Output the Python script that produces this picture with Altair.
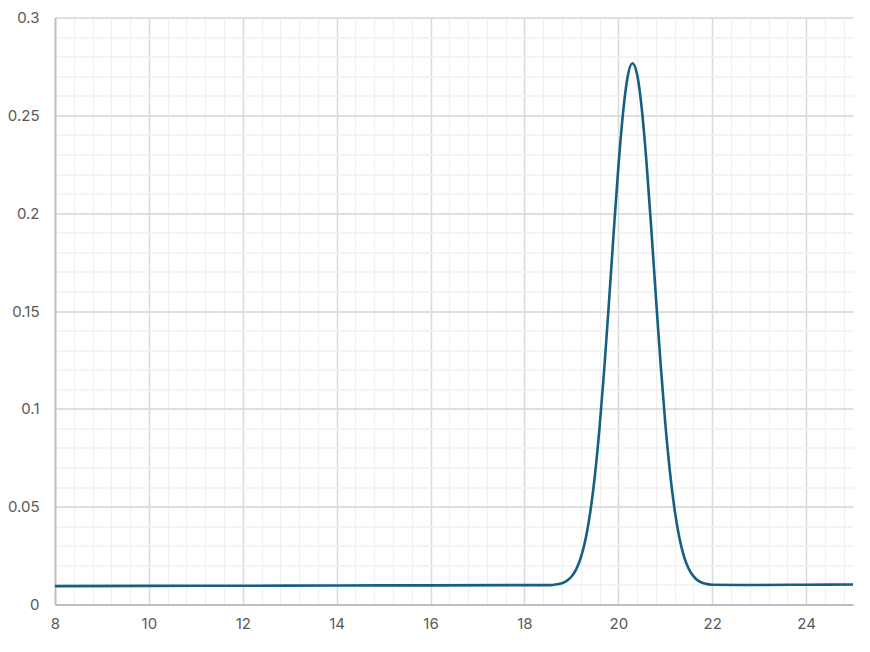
import altair as alt
import pandas as pd

# curve
xs = [8, 10, 12, 14, 16, 18, 18.5,
      18.6, 18.7, 18.8, 18.9, 19.0, 19.1, 19.2, 19.3, 19.4, 19.5,
      19.6, 19.7, 19.8, 19.9, 20.0, 20.1, 20.2, 20.3, 20.4, 20.5,
      20.6, 20.7, 20.8, 20.9, 21.0, 21.1, 21.2, 21.3, 21.4, 21.5,
      21.6, 21.7, 21.8, 21.9, 22.0,
      22.5, 23, 24, 25]
ys = [0.0094, 0.0095, 0.0096, 0.0097, 0.0098, 0.0099, 0.0099,
      0.0100, 0.0103, 0.0109, 0.0121, 0.0142, 0.0178, 0.0238, 0.0331, 0.0467, 0.0656,
      0.0902, 0.1201, 0.1540, 0.1895, 0.2231, 0.2510, 0.2698, 0.2766, 0.2710, 0.2534,
      0.2262, 0.1930, 0.1575, 0.1234, 0.0929, 0.0678, 0.0484, 0.0342, 0.0245, 0.0183,
      0.0145, 0.0122, 0.0110, 0.0104, 0.0101,
      0.0100, 0.0100, 0.0101, 0.0102]

x_major = [8, 10, 12, 14, 16, 18, 20, 22, 24]
y_major = [0, 0.05, 0.1, 0.15, 0.2, 0.25, 0.3]
x_minor = [round(8 + 0.4 * i, 1) for i in range(43)]
y_minor = [round(0.01 * i, 2) for i in range(31)]

df = pd.DataFrame({'x': xs, 'y': ys})

FONT = 'Inter'
LINE_COLOR = '#156082'

x_scale = alt.Scale(domain=[8, 25], nice=False, zero=False)
y_scale = alt.Scale(domain=[0, 0.3], nice=False)

minor = alt.Chart(df).mark_line(opacity=0).encode(
    x=alt.X('x:Q', scale=x_scale, title=None,
            axis=alt.Axis(values=x_minor, orient='bottom', labels=False, ticks=False,
                          domain=False, grid=True, gridColor='#f0f0f0', gridWidth=1.3)),
    y=alt.Y('y:Q', scale=y_scale, title=None,
            axis=alt.Axis(values=y_minor, orient='left', labels=False, ticks=False,
                          domain=False, grid=True, gridColor='#f0f0f0', gridWidth=1.3)),
)

curve = alt.Chart(df).mark_line(
    color=LINE_COLOR, strokeWidth=2.6, interpolate='monotone'
).encode(
    x=alt.X('x:Q', scale=x_scale, title=None,
            axis=alt.Axis(values=x_major, orient='bottom', ticks=False, grid=True,
                          gridColor='#d9d9d9', gridWidth=1.4,
                          domainColor='#bfbfbf', domainWidth=1.8,
                          labelFont=FONT, labelFontSize=15, labelColor='#595959',
                          labelPadding=12, labelFlush=False, format='~g')),
    y=alt.Y('y:Q', scale=y_scale, title=None,
            axis=alt.Axis(values=y_major, orient='left', ticks=False, grid=True,
                          gridColor='#d9d9d9', gridWidth=1.4,
                          domainColor='#bfbfbf', domainWidth=1.8,
                          labelFont=FONT, labelFontSize=15, labelColor='#595959',
                          labelPadding=16, labelFlush=False, format='~g')),
)

chart = alt.layer(minor, curve).resolve_axis(
    x='independent', y='independent'
).properties(
    width=798,
    height=587,
    autosize=alt.AutoSizeParams(type='none'),
    padding={'left': 47, 'top': 9.5, 'right': 9, 'bottom': 39},
).configure_view(stroke=None)

chart.save("out.html", embed_options={"renderer": "svg", "actions": False})
